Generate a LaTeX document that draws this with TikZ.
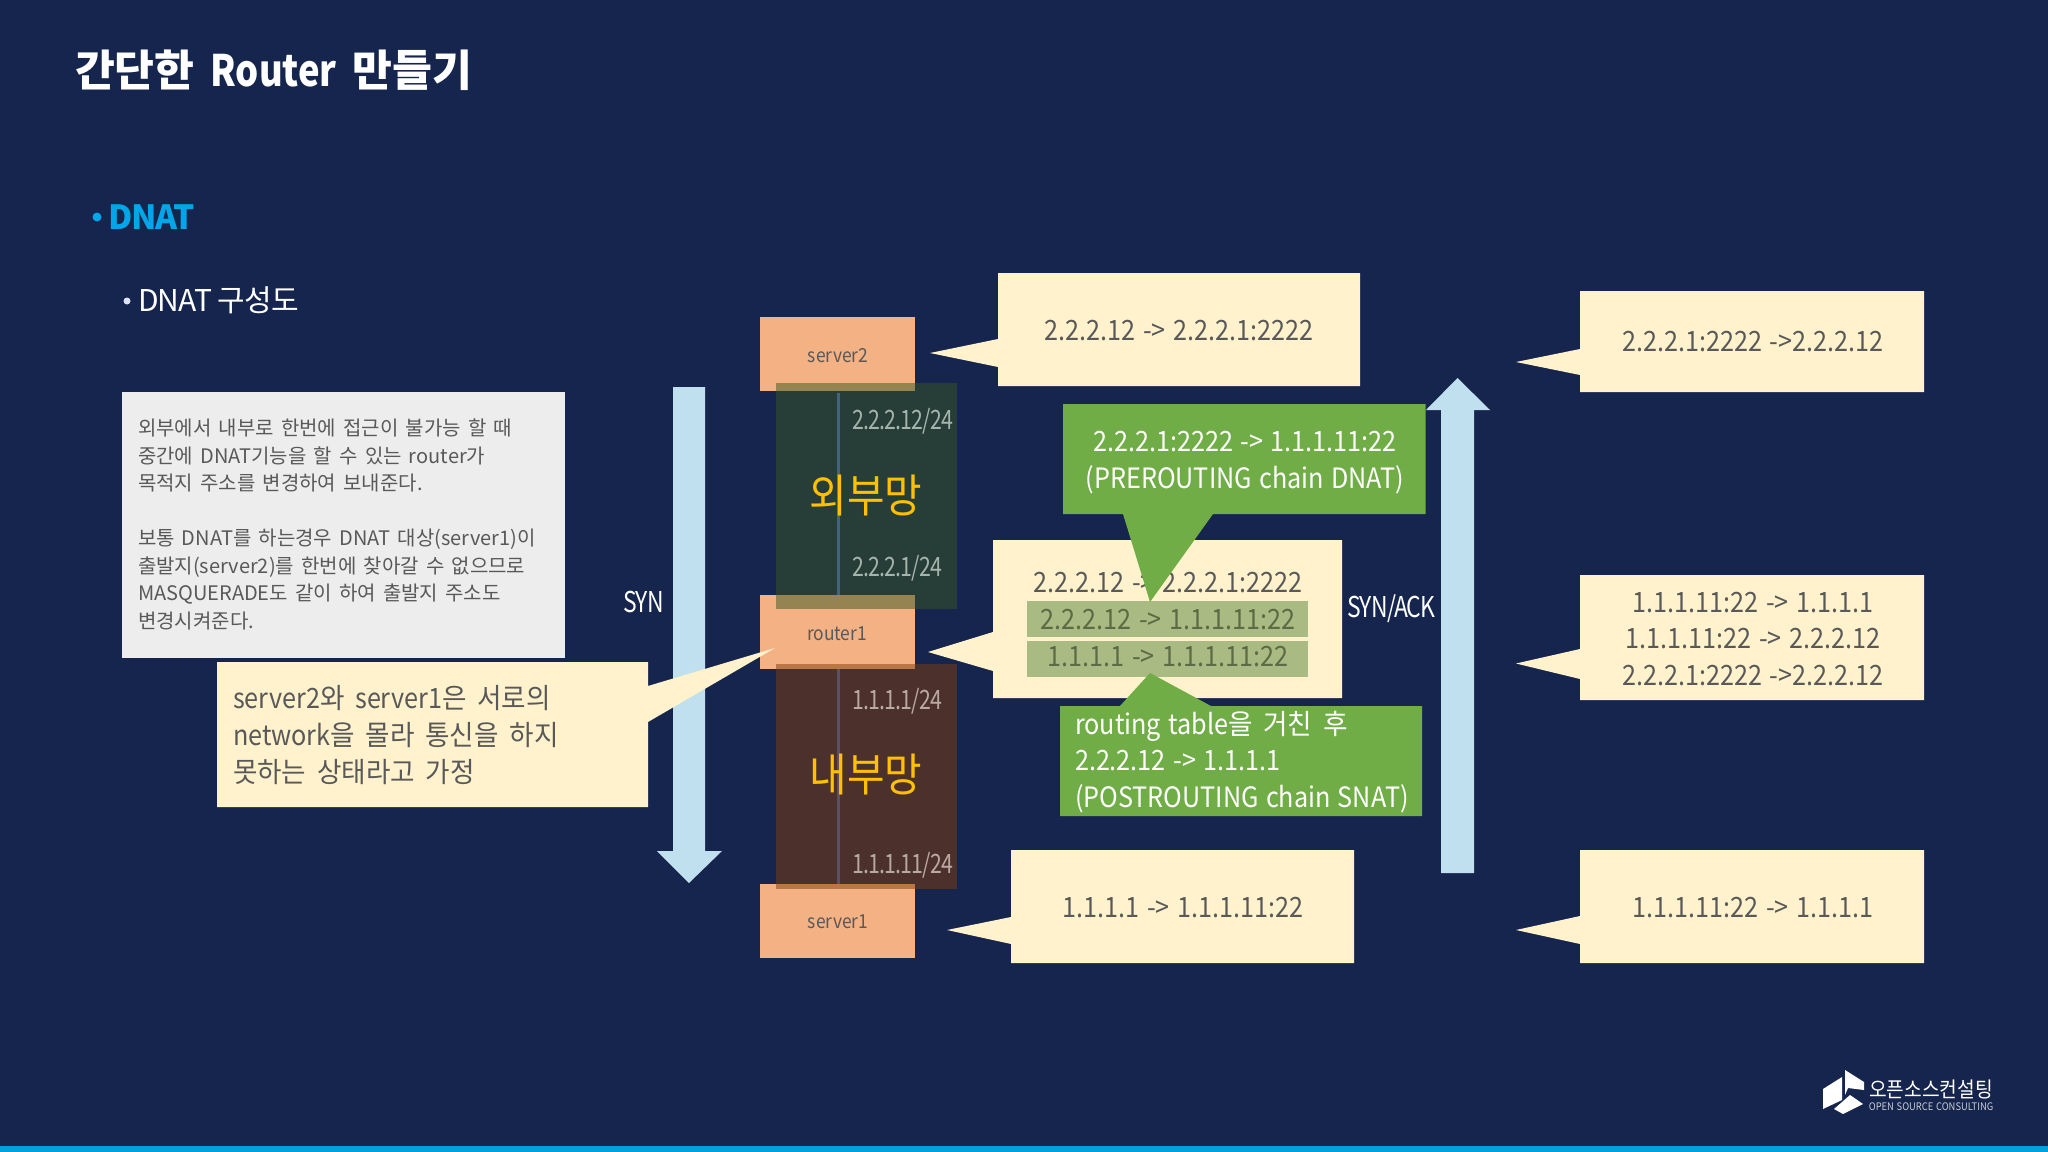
\documentclass[tikz,border=0pt]{standalone}
\usepackage{fontspec}
\setmainfont{Noto Sans CJK KR}
\newfontfamily\krn[FakeStretch=0.9,WordSpace=1.3]{Noto Sans CJK KR}
\newfontfamily\krt[FakeStretch=0.8,LetterSpace=-3]{Noto Sans CJK KR}
\newfontfamily\krd[LetterSpace=-3]{Noto Sans CJK KR}
\newfontfamily\krw[WordSpace=1.9]{Noto Sans CJK KR}
\newfontfamily\kry[FakeStretch=0.95,WordSpace=1.8]{Noto Sans CJK KR}
\newfontfamily\krh[WordSpace=1.6]{Noto Sans CJK KR}
\newfontfamily\krr[FakeStretch=0.84]{Noto Sans CJK KR}
\definecolor{navy}{HTML}{15254D}
\definecolor{cream}{HTML}{FFF2CC}
\definecolor{peach}{HTML}{F4B183}
\definecolor{leaf}{HTML}{70AD47}
\definecolor{sky}{HTML}{C0E0EF}
\definecolor{ink}{HTML}{595959}
\definecolor{barblue}{HTML}{00A0E0}
\definecolor{dnatblue}{HTML}{00A6E8}
\definecolor{bulletpale}{HTML}{DDE3F5}
\definecolor{notegrey}{HTML}{EDEDED}
\definecolor{extgreen}{HTML}{385723}
\definecolor{intbrown}{HTML}{843C0C}
\definecolor{extline}{HTML}{40647D}
\definecolor{intline}{HTML}{5A5068}
\definecolor{zoneyellow}{HTML}{FFC000}
\definecolor{extip}{HTML}{A5B4AC}
\definecolor{intip}{HTML}{BAA8A2}
\definecolor{barolive}{HTML}{A9BA82}
\definecolor{barink}{HTML}{5C6B45}
\definecolor{logosub}{HTML}{C8CDD7}
\tikzset{
  cbox/.style={fill=cream},
  gbox/.style={fill=leaf},
  host/.style={fill=peach},
  arrowshape/.style={fill=sky},
  wt/.style={inner sep=0pt,outer sep=0pt,align=center},
  inktext/.style={wt,text=ink,font=\krn\fontsize{21pt}{27.6pt}\selectfont},
  hosttext/.style={wt,text=ink,font=\krn\fontsize{14.5pt}{18pt}\selectfont},
  greentext/.style={wt,text=white,font=\krn\fontsize{21pt}{27.6pt}\selectfont},
  ipt/.style={wt,anchor=west,font=\krt\fontsize{20pt}{24pt}\selectfont},
  zone/.style={wt,text=zoneyellow,font=\krn\fontsize{34pt}{38pt}\selectfont},
}
\begin{document}
\begin{tikzpicture}[x=0.75pt,y=-0.75pt]
\useasboundingbox (0,0) rectangle (2048,1152);
\fill[navy] (0,0) rectangle (2048,1152);
\fill[barblue] (0,1146) rectangle (2048,1152);

% headings
\node[wt,anchor=west,text=white,font=\krh\bfseries\fontsize{32.5pt}{36pt}\selectfont] (title) at (75,70) {간단한 {\krr\bfseries Router} 만들기};
\fill[dnatblue] (97,217) circle (4.5);
\node[wt,anchor=west,text=dnatblue,font=\krd\bfseries\fontsize{25pt}{30pt}\selectfont] (dnat) at (108,217) {DNAT};
\fill[bulletpale] (127,301) circle (3.5);
\node[wt,anchor=west,text=white,font=\krd\fontsize{22.5pt}{26pt}\selectfont] (sub) at (138,300) {DNAT 구성도};

% arrows
\fill[arrowshape] (673,387) -- (705,387) -- (705,851) -- (722,851) -- (689,883) -- (657,851) -- (673,851) -- cycle;
\fill[arrowshape] (1441,873) -- (1474,873) -- (1474,410) -- (1490,410) -- (1457.5,378) -- (1426,410) -- (1441,410) -- cycle;
\node[wt,text=white,font=\krt\fontsize{21.5pt}{24pt}\selectfont] (syn) at (643.5,602) {SYN};
\node[wt,text=white,font=\krt\fontsize{21.5pt}{24pt}\selectfont] (synack) at (1391.5,609) {SYN/ACK};

% grey note
\fill[notegrey] (122,392) rectangle (565,658);
\node[wt,align=left,anchor=west,text=ink,font=\krw\fontsize{15pt}{20.6pt}\selectfont] (note) at (138,524.5) {외부에서 내부로 한번에 접근이 불가능 할 때\\중간에 DNAT기능을 할 수 있는 router가\\목적지 주소를 변경하여 보내준다.\\~\\보통 DNAT를 하는경우 DNAT 대상(server1)이\\출발지(server2)를 한번에 찾아갈 수 없으므로\\MASQUERADE도 같이 하여 출발지 주소도\\변경시켜준다.};

% hosts
\fill[host] (760,317) rectangle (915,391);
\fill[host] (760,595) rectangle (915,669);
\fill[host] (760,884) rectangle (915,958);
\node[hosttext] (server2) at (838,356) {server2};
\node[hosttext] (router1) at (837,634) {router1};
\node[hosttext] (server1) at (838,922) {server1};

% yellow note with tail
\fill[cbox] (217,662) -- (648,662) -- (648,686) -- (775,648) -- (648,722) -- (648,807) -- (217,807) -- cycle;
\node[wt,align=left,anchor=west,text=ink,font=\kry\fontsize{21pt}{27.6pt}\selectfont] (assume) at (233,735) {{\krn server2}와 {\krn server1}은 서로의\\{\krn network}을 몰라 통신을 하지\\못하는 상태라고 가정};

% networks
\fill[extgreen,opacity=.5] (776,383) rectangle (957,609);
\fill[intbrown,opacity=.5] (776,664) rectangle (957,889);
\fill[extline] (836.5,393) rectangle (840,595);
\fill[intline] (836.5,669) rectangle (840,884);
\node[zone] (ext) at (866,496) {외부망};
\node[zone] (int) at (866,775) {내부망};
\node[ipt,text=extip] (ipa) at (852,421) {2.2.2.12/24};
\node[ipt,text=extip] (ipb) at (852,568) {2.2.2.1/24};
\node[ipt,text=intip] (ipc) at (852,701) {1.1.1.1/24};
\node[ipt,text=intip] (ipd) at (852,865) {1.1.1.11/24};

% middle callouts
\fill[cbox] (998,273) -- (1360,273) -- (1360,386) -- (998,386) -- (998,367) -- (930,353) -- (998,339) -- cycle;
\node[inktext] (m1) at (1179,331) {2.2.2.12 -> 2.2.2.1:2222};
\fill[cbox] (993,540) -- (1342,540) -- (1342,698) -- (993,698) -- (993,671) -- (928,652) -- (993,632) -- cycle;
\node[inktext] (m2) at (1168,583) {2.2.2.12 -> 2.2.2.1:2222};
\fill[barolive] (1027,601) rectangle (1308,637);
\fill[barolive] (1027,641) rectangle (1308,677);
\node[inktext,text=barink] (m3) at (1168,620) {2.2.2.12 -> 1.1.1.11:22};
\node[inktext,text=barink] (m4) at (1168,657) {1.1.1.1 -> 1.1.1.11:22};
\fill[cbox] (1011,850) -- (1354,850) -- (1354,963) -- (1011,963) -- (1011,944) -- (947,930) -- (1011,917) -- cycle;
\node[inktext] (m5) at (1183,908) {1.1.1.1 -> 1.1.1.11:22};

% green callouts
\fill[gbox] (1063,404) -- (1425.5,404) -- (1425.5,514) -- (1213,514) -- (1150,602) -- (1123,514) -- (1063,514) -- cycle;
\node[greentext] (g1) at (1245,462.5) {2.2.2.1:2222 -> 1.1.1.11:22\\(PREROUTING chain DNAT)};
\fill[gbox] (1060,706) -- (1120,706) -- (1150,673) -- (1211,706) -- (1422,706) -- (1422,816) -- (1060,816) -- cycle;
\node[greentext,align=left,anchor=west] (g2) at (1075,762) {routing table{\kry 을 거친 후}\\2.2.2.12 -> 1.1.1.1\\(POSTROUTING chain SNAT)};

% right callouts
\fill[cbox] (1580,291) -- (1924,291) -- (1924,392) -- (1580,392) -- (1580,375) -- (1516,362) -- (1580,349) -- cycle;
\node[inktext] (r1) at (1753,342) {2.2.2.1:2222 ->2.2.2.12};
\fill[cbox] (1580,575) -- (1924,575) -- (1924,700) -- (1580,700) -- (1580,679) -- (1516,663.5) -- (1580,649) -- cycle;
\node[inktext,font=\krn\fontsize{21pt}{27.4pt}\selectfont] (r2) at (1753,639) {1.1.1.11:22 -> 1.1.1.1\\1.1.1.11:22 -> 2.2.2.12\\2.2.2.1:2222 ->2.2.2.12};
\fill[cbox] (1580,850) -- (1924,850) -- (1924,963) -- (1580,963) -- (1580,944) -- (1516,930) -- (1580,916) -- cycle;
\node[inktext] (r3) at (1753,908) {1.1.1.11:22 -> 1.1.1.1};

% logo
\fill[white] (1823,1089) -- (1842,1077) -- (1842,1100) -- (1823,1109) -- cycle;
\fill[white] (1845,1070) -- (1864,1082) -- (1864,1090) -- (1848,1088) -- (1845,1095) -- cycle;
\fill[white] (1834,1109) -- (1850,1095) -- (1863,1104) -- (1843,1114) -- cycle;
\node[wt,text=white,font=\krn\fontsize{16pt}{18pt}\selectfont] (lg1) at (1931,1089) {오픈소스컨설팅};
\node[wt,text=logosub,font=\krn\fontsize{7.8pt}{9pt}\selectfont] (lg2) at (1931,1107) {OPEN SOURCE CONSULTING};
\end{tikzpicture}
\end{document}
